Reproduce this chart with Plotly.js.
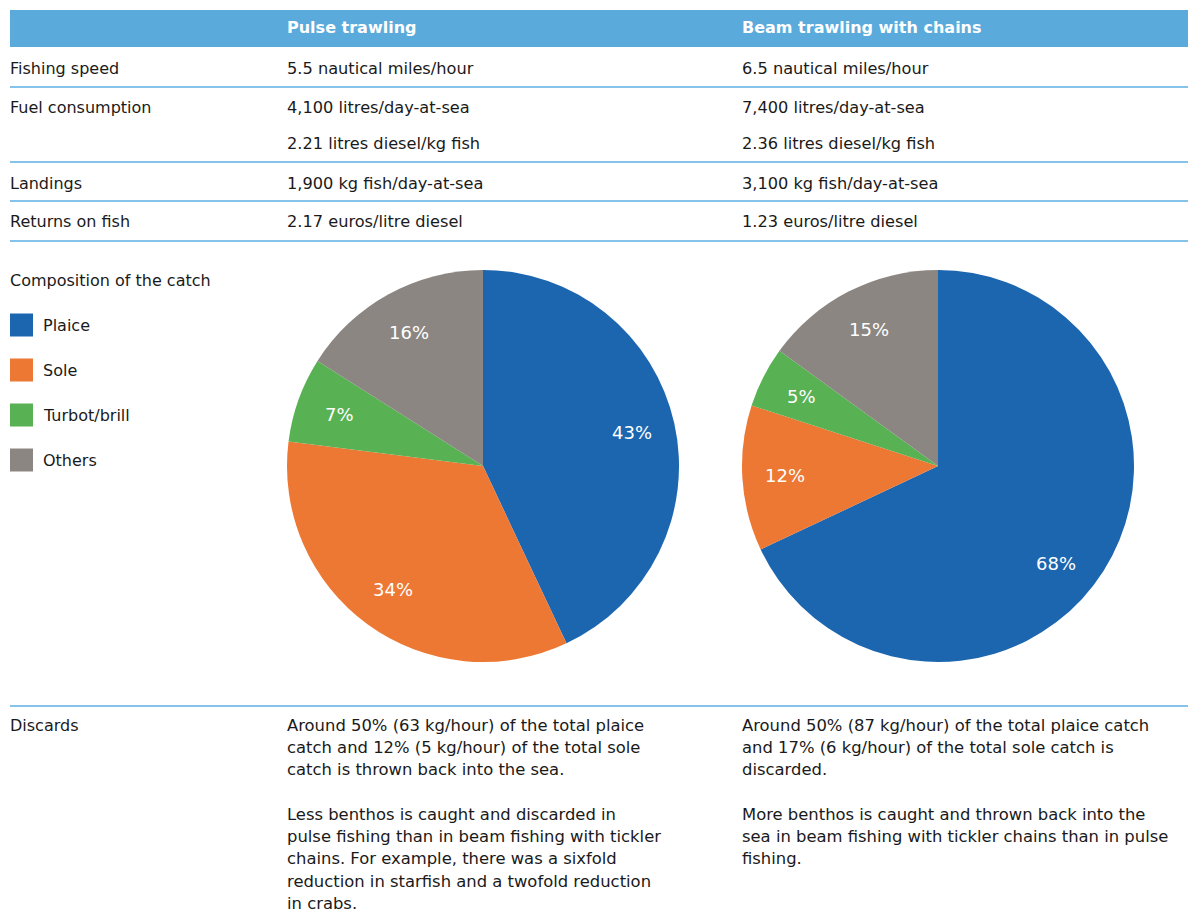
<!DOCTYPE html>
<html>
<head>
<meta charset="utf-8">
<script src="https://cdn.plot.ly/plotly-3.0.1.min.js"></script>
<style>
html,body{margin:0;padding:0;background:#fff;}
#chart{width:1188px;height:912px;}
</style>
</head>
<body>
<div id="chart"></div>
<script>
// ---- data ----
const columnHeaders = ["Pulse trawling", "Beam trawling with chains"];
const rowLabels = ["Fishing speed", "Fuel consumption", "", "Landings", "Returns on fish"];
const pulseValues = ["5.5 nautical miles/hour", "4,100 litres/day-at-sea", "2.21 litres diesel/kg fish", "1,900 kg fish/day-at-sea", "2.17 euros/litre diesel"];
const beamValues = ["6.5 nautical miles/hour", "7,400 litres/day-at-sea", "2.36 litres diesel/kg fish", "3,100 kg fish/day-at-sea", "1.23 euros/litre diesel"];
const catchTitle = "Composition of the catch";
const species = ["Plaice", "Sole", "Turbot/brill", "Others"];
const pulseShares = [43, 34, 7, 16];
const beamShares = [68, 12, 5, 15];
const discardsLabel = "Discards";
const pulseDiscards = [
  "Around 50% (63 kg/hour) of the total plaice",
  "catch and 12% (5 kg/hour) of the total sole",
  "catch is thrown back into the sea.",
  "",
  "Less benthos is caught and discarded in",
  "pulse fishing than in beam fishing with tickler",
  "chains. For example, there was a sixfold",
  "reduction in starfish and a twofold reduction",
  "in crabs."
];
const beamDiscards = [
  "Around 50% (87 kg/hour) of the total plaice catch",
  "and 17% (6 kg/hour) of the total sole catch is",
  "discarded.",
  "",
  "More benthos is caught and thrown back into the",
  "sea in beam fishing with tickler chains than in pulse",
  "fishing."
];

// ---- styles ----
const W = 1188, H = 912;
const colors = ["#1c66b0", "#ed7834", "#58b152", "#8c8682"];
const headerColor = "#5aaadc";
const lineColor = "#86c3ea";
const textColor = "#1a1a1a";
const FONT = "DejaVu Sans, Verdana, sans-serif";
const FS = 16;
const px = x => x / W;
const py = y => 1 - y / H;

const col0 = 8, col1 = 285, col2 = 740;
const annotations = [];
const shapes = [];

function txt(x, y, text, opts) {
  opts = opts || {};
  annotations.push({
    xref: "paper", yref: "paper", x: px(x), y: py(y), text: text,
    showarrow: false, xanchor: "left", yanchor: "middle", align: "left",
    font: Object.assign({family: FONT, size: opts.size || FS, color: textColor}, opts.font || {})
  });
}

// header band
shapes.push({type: "rect", xref: "paper", yref: "paper", x0: px(10), x1: px(1188), y0: py(10), y1: py(47),
  fillcolor: headerColor, line: {width: 0}, layer: "below"});
txt(col1, 28, "<b>" + columnHeaders[0] + "</b>", {font: {color: "#ffffff"}});
txt(col2, 28, "<b>" + columnHeaders[1] + "</b>", {font: {color: "#ffffff"}});

// table rows
const rowY = [68, 107, 143, 183, 221];
rowLabels.forEach((lab, i) => {
  if (lab) txt(col0, rowY[i], lab);
  txt(col1, rowY[i], pulseValues[i], {size: 16.2});
  txt(col2, rowY[i], beamValues[i], {size: 16.2});
});
[87, 162, 201, 241, 706].forEach(y => {
  shapes.push({type: "line", xref: "paper", yref: "paper", x0: px(10), x1: px(1188), y0: py(y), y1: py(y),
    line: {color: lineColor, width: 2}});
});

// legend
txt(col0, 280, catchTitle);
const legY = [325, 370, 415, 460];
species.forEach((s, i) => {
  shapes.push({type: "rect", xref: "paper", yref: "paper", x0: px(10), x1: px(33), y0: py(legY[i] - 11.5), y1: py(legY[i] + 11.5),
    fillcolor: colors[i], line: {width: 0}});
  txt(41, legY[i], s);
});

// discards
txt(col0, 725, discardsLabel);
const lh = 22.3;
pulseDiscards.forEach((l, i) => { if (l) txt(col1, 725 + i * lh, l, {size: 16.4}); });
beamDiscards.forEach((l, i) => { if (l) txt(col2, 725 + i * lh, l, {size: 16.4}); });

// pies
const R = 196, cy = 466;
function pie(values, cx, name) {
  return {
    type: "pie", name: name, labels: species, values: values, sort: false, direction: "clockwise", rotation: 0,
    marker: {colors: colors, line: {width: 0}},
    textinfo: "none",
    domain: {x: [px(cx - R), px(cx + R)], y: [py(cy + R), py(cy - R)]},
    hoverinfo: "label+percent", showlegend: false
  };
}
// percentage labels placed along each slice's mid-angle (derived from the values)
function pieLabels(values, cx) {
  const total = values.reduce((a, b) => a + b, 0);
  let cum = 0;
  values.forEach(v => {
    let frac = (cum + v / 2) / total;
    cum += v;
    // very large slices: label sits a bit further round, as in the reference
    if (v / total > 0.5) frac += 0.02;
    const mid = frac * 2 * Math.PI;
    const r = 0.78 * R;
    annotations.push({
      xref: "paper", yref: "paper", x: px(cx + r * Math.sin(mid)), y: py(cy - r * Math.cos(mid)),
      text: v + "%", showarrow: false, xanchor: "center", yanchor: "middle",
      font: {family: FONT, size: 18, color: "#ffffff"}
    });
  });
}
pieLabels(pulseShares, 483);
pieLabels(beamShares, 938);
const data = [pie(pulseShares, 483, columnHeaders[0]), pie(beamShares, 938, columnHeaders[1])];

const layout = {
  width: W, height: H, margin: {l: 0, r: 0, t: 0, b: 0},
  paper_bgcolor: "#ffffff", plot_bgcolor: "#ffffff",
  showlegend: false, annotations: annotations, shapes: shapes,
  font: {family: FONT}
};
Plotly.newPlot("chart", data, layout, {displayModeBar: false, staticPlot: true});
</script>
</body>
</html>
